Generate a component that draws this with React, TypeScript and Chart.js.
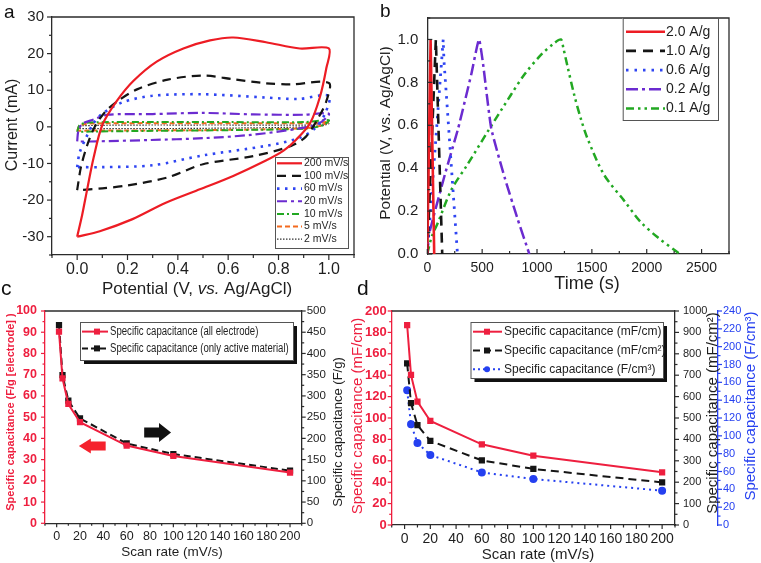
import React, { useEffect, useRef } from "react";
import { Chart, registerables } from "chart.js";

Chart.register(...registerables);

const FONT = "'Liberation Sans', Arial, Helvetica, sans-serif";
const AXIS = "#2b2b2b";
const TXT = "#1e1e1e";
const RED = "#ed1c24";
const BLACK = "#151515";
const BLUE = "#2f45f2";
const PURPLE = "#6b2bd0";
const GREEN = "#22a822";
const ORANGE = "#f46a1e";
const CRED = "#ee1f3f";
const DBLUE = "#2540f0";

type Pt = [number, number];

// ---------------- Panel a : cyclic voltammetry (potential V, current mA) ----------------
const cvNames = ["200 mV/s", "100 mV/s", "60 mV/s", "20 mV/s", "10 mV/s", "5 mV/s", "2 mV/s"];
const cv200: Pt[] = [[0, -30], [0.02, -24], [0.04, -17], [0.065, -8.5], [0.1, 0.5], [0.157, 7], [0.223, 12.5], [0.316, 17.8], [0.422, 21.4], [0.528, 23.6], [0.62, 24.4], [0.75, 23.1], [0.885, 21.4], [1.0, 21.4], [0.99, 16], [0.964, 8], [0.925, 0.9], [0.87, -3.5], [0.82, -6.5], [0.75, -9.2], [0.62, -13.4], [0.49, -17], [0.35, -20.8], [0.22, -25.2], [0.09, -28.5], [0, -30]];
const cv100: Pt[] = [[0, -17.3], [0.015, -11], [0.04, -5], [0.07, 0], [0.11, 4], [0.16, 7], [0.24, 10.3], [0.36, 12.9], [0.5, 14], [0.62, 13], [0.75, 11.9], [0.85, 11.6], [1.0, 12], [0.99, 7], [0.96, 2.7], [0.91, -2.6], [0.85, -5.2], [0.7, -8], [0.5, -10.2], [0.36, -13.8], [0.2, -16], [0.1, -16.8], [0, -17.3]];
const cv60: Pt[] = [[0, -11], [0.01, -7], [0.035, -3], [0.065, 1], [0.1, 3.6], [0.18, 6.7], [0.3, 8.5], [0.5, 8.9], [0.75, 8], [0.88, 7.6], [1.0, 8.5], [0.985, 3.6], [0.945, -0.4], [0.885, -3], [0.75, -5.2], [0.5, -7.8], [0.3, -10.5], [0.1, -11], [0, -11]];
const cv20: Pt[] = [[0, -4], [0.005, -1], [0.02, 0.8], [0.065, 2], [0.12, 3.3], [0.3, 3.5], [0.5, 3.8], [0.7, 3.4], [0.9, 3.3], [1.0, 3.6], [0.96, 0.9], [0.885, -0.4], [0.69, -2.2], [0.5, -3.1], [0.29, -3.6], [0.05, -4], [0, -4]];
const cv10: Pt[] = [[0, -1.4], [0.01, 0.5], [0.05, 1.2], [0.3, 1.3], [0.6, 1.3], [0.9, 1.3], [1.0, 1.8], [0.97, 0.3], [0.9, -0.5], [0.6, -0.9], [0.3, -1.1], [0.05, -1.3], [0, -1.4]];
const cv5: Pt[] = [[0, -1.1], [0.01, 0.3], [0.05, 0.9], [0.5, 1.0], [0.95, 1.0], [1.0, 1.4], [0.96, 0.2], [0.9, -0.4], [0.5, -0.9], [0.05, -1.0], [0, -1.1]];
const cv2: Pt[] = [[0, -0.5], [0.02, 0.3], [0.5, 0.5], [0.95, 0.5], [1.0, 0.9], [0.96, 0.1], [0.5, -0.4], [0.05, -0.5], [0, -0.5]];
const cvLoops = [cv200, cv100, cv60, cv20, cv10, cv5, cv2];
const cvXTicks = [0, 0.2, 0.4, 0.6, 0.8, 1.0];
const cvYTicks = [-30, -20, -10, 0, 10, 20, 30];

// ---------------- Panel b : galvanostatic charge/discharge (time s, potential V) ----------------
const gcdNames = ["2.0 A/g", "1.0 A/g", "0.6 A/g", "0.2 A/g", "0.1 A/g"];
const gcd20: Pt[] = [[0, 0], [30, 1.0], [63, 0]];
const gcd10: Pt[] = [[0, 0], [78, 1.0], [82, 0.93], [136, 0]];
const gcd06: Pt[] = [[0, 0], [145, 1.0], [152, 0.9], [275, 0]];
const gcd02: Pt[] = [[0, 0], [10, 0.08], [160, 0.37], [281, 0.585], [402, 0.84], [471, 1.0], [508, 0.887], [583, 0.585], [704, 0.358], [825, 0.16], [930, 0]];
const gcd01: Pt[] = [[0, 0], [40, 0.08], [100, 0.15], [220, 0.3], [370, 0.42], [550, 0.57], [760, 0.74], [890, 0.84], [1040, 0.93], [1150, 0.98], [1218, 1.0], [1240, 0.96], [1280, 0.87], [1340, 0.74], [1400, 0.63], [1459, 0.54], [1610, 0.37], [1792, 0.25], [1943, 0.15], [2094, 0.08], [2275, 0.01], [2300, 0]];
const gcdCurves = [gcd20, gcd10, gcd06, gcd02, gcd01];
const gcdXTicks = [0, 500, 1000, 1500, 2000, 2500];
const gcdYTicks = [0, 0.2, 0.4, 0.6, 0.8, 1.0];

// ---------------- Panel c : specific capacitance vs scan rate ----------------
const scanRates = [2, 5, 10, 20, 60, 100, 200];
const capAllElectrode = [90.3, 68.3, 56.2, 47.6, 36.6, 31.7, 23.9]; // F/g [electrode]
const capActiveOnly = [467, 349, 289, 247, 188, 163, 124]; // F/g
const cNames = ["Specific capacitance (all electrode)", "Specific capacitance (only active material)"];
const cXTicks = [0, 20, 40, 60, 80, 100, 120, 140, 160, 180, 200];
const cLeftTicks = [0, 10, 20, 30, 40, 50, 60, 70, 80, 90, 100];
const cRightTicks = [0, 50, 100, 150, 200, 250, 300, 350, 400, 450, 500];

// ---------------- Panel d : linear / areal / volumetric capacitance ----------------
const capLinear = [186.9, 140.2, 115.3, 97.2, 75.4, 64.8, 49.2]; // mF/cm
const capAreal = [755, 569, 467, 393, 302, 262, 199]; // mF/cm2
const capVolumetric = [151, 113, 92, 78.5, 59, 51.6, 38.5]; // F/cm3
const dNames = ["Specific capacitance (mF/cm)", "Specific capacitance (mF/cm\u00B2)", "Specific capacitance (F/cm\u00B3)"];
const dXTicks = [0, 20, 40, 60, 80, 100, 120, 140, 160, 180, 200];
const dLeftTicks = [0, 20, 40, 60, 80, 100, 120, 140, 160, 180, 200];
const dRightTicks = [0, 100, 200, 300, 400, 500, 600, 700, 800, 900, 1000];
const dBlueTicks = [0, 20, 40, 60, 80, 100, 120, 140, 160, 180, 200, 220, 240];

// ---------------- drawing helpers ----------------
type Seg = { t: string; i?: boolean };
type TextSpec = { segs: Seg[]; x: number; y: number; size: number; color: string; rot?: boolean; bold?: boolean; family?: string };
type TickSpec = { id: string; side: "left" | "right" | "bottom"; dir: 1 | -1; major: number; minor: number; color: string };
type LegItem = { label: string; color: string; dash: number[]; width: number; marker?: "rect" | "circle"; cap?: CanvasLineCap };
type LegendSpec = { x: number; y: number; w: number; h: number; shadow?: boolean; rowY: number; rowH: number; lx0: number; lx1: number; mx?: number; tx: number; size: number; family: string; sx?: number; items: LegItem[] };
type ArrowSpec = { x0: number; x1: number; yv: number; dir: 1 | -1; color: string; shaft: number; head: number; headLen: number };
type DecorSpec = { ox: number; oy: number; ticks: TickSpec[]; texts: TextSpec[]; frame?: boolean; topLine?: boolean; legend?: LegendSpec; arrows?: ArrowSpec[] };

function drawSegs(ctx: CanvasRenderingContext2D, spec: TextSpec, ox: number, oy: number) {
  ctx.save();
  const fam = spec.family ?? FONT;
  const fontOf = (s: Seg) => `${s.i ? "italic " : ""}${spec.bold ? "bold " : ""}${spec.size}px ${fam}`;
  let total = 0;
  const widths = spec.segs.map((s) => {
    ctx.font = fontOf(s);
    const w = ctx.measureText(s.t).width;
    total += w;
    return w;
  });
  ctx.translate(spec.x - ox, spec.y - oy);
  if (spec.rot) ctx.rotate(-Math.PI / 2);
  ctx.fillStyle = spec.color;
  ctx.textBaseline = "middle";
  ctx.textAlign = "left";
  let cx = -total / 2;
  spec.segs.forEach((s, k) => {
    ctx.font = fontOf(s);
    ctx.fillText(s.t, cx, 0);
    cx += widths[k];
  });
  ctx.restore();
}

function drawTicks(chart: any, t: TickSpec) {
  const s: any = chart.scales[t.id];
  if (!s) return;
  const ctx: CanvasRenderingContext2D = chart.ctx;
  const vals: number[] = s.ticks.map((k: any) => k.value);
  const step = vals.length > 1 ? vals[1] - vals[0] : 0;
  const minors: number[] = [];
  if (step) {
    for (let v = vals[0] - step / 2; v <= s.max + 1e-9; v += step) if (v >= s.min - 1e-9) minors.push(v);
  }
  ctx.save();
  ctx.strokeStyle = t.color;
  ctx.lineWidth = 1.2;
  const line = (v: number, len: number) => {
    const p = s.getPixelForValue(v);
    ctx.beginPath();
    if (t.side === "bottom") {
      const y0 = s.top;
      ctx.moveTo(p, y0);
      ctx.lineTo(p, y0 + t.dir * len);
    } else if (t.side === "left") {
      const x0 = s.right;
      ctx.moveTo(x0, p);
      ctx.lineTo(x0 - t.dir * len, p);
    } else {
      const x0 = s.left;
      ctx.moveTo(x0, p);
      ctx.lineTo(x0 + t.dir * len, p);
    }
    ctx.stroke();
  };
  vals.forEach((v) => line(v, t.major));
  minors.forEach((v) => line(v, t.minor));
  ctx.restore();
}

function drawLegend(ctx: CanvasRenderingContext2D, L: LegendSpec, ox: number, oy: number) {
  ctx.save();
  const x = L.x - ox;
  const y = L.y - oy;
  if (L.shadow) {
    ctx.fillStyle = "#111";
    ctx.fillRect(x + 4, y + 4, L.w, L.h);
  }
  ctx.fillStyle = "#fff";
  ctx.fillRect(x, y, L.w, L.h);
  ctx.strokeStyle = "#555";
  ctx.lineWidth = 1;
  ctx.strokeRect(x + 0.5, y + 0.5, L.w, L.h);
  L.items.forEach((it, k) => {
    const ry = L.rowY - oy + k * L.rowH;
    ctx.beginPath();
    ctx.setLineDash(it.dash);
    ctx.strokeStyle = it.color;
    ctx.lineWidth = it.width;
    ctx.lineCap = it.cap ?? "butt";
    ctx.moveTo(L.lx0 - ox, ry);
    ctx.lineTo(L.lx1 - ox, ry);
    ctx.stroke();
    ctx.setLineDash([]);
    if (it.marker && L.mx !== undefined) {
      ctx.fillStyle = it.color;
      const mx = L.mx - ox;
      if (it.marker === "rect") ctx.fillRect(mx - 3, ry - 3, 6, 6);
      else {
        ctx.beginPath();
        ctx.arc(mx, ry, 3, 0, Math.PI * 2);
        ctx.fill();
      }
    }
    ctx.save();
    ctx.fillStyle = TXT;
    ctx.font = `${L.size}px ${L.family}`;
    ctx.textBaseline = "middle";
    ctx.textAlign = "left";
    ctx.translate(L.tx - ox, ry);
    ctx.scale(L.sx ?? 1, 1);
    ctx.fillText(it.label, 0, 0);
    ctx.restore();
  });
  ctx.restore();
}

function drawArrow(chart: any, a: ArrowSpec) {
  const ctx: CanvasRenderingContext2D = chart.ctx;
  const xs = chart.scales.x;
  const ys = chart.scales.y;
  const X0 = xs.getPixelForValue(a.x0);
  const X1 = xs.getPixelForValue(a.x1);
  const Y = ys.getPixelForValue(a.yv);
  const tip = a.dir === 1 ? X1 : X0;
  const tail = a.dir === 1 ? X0 : X1;
  const hb = tip - a.dir * a.headLen;
  ctx.save();
  ctx.fillStyle = a.color;
  ctx.beginPath();
  ctx.moveTo(tail, Y - a.shaft / 2);
  ctx.lineTo(hb, Y - a.shaft / 2);
  ctx.lineTo(hb, Y - a.head / 2);
  ctx.lineTo(tip, Y);
  ctx.lineTo(hb, Y + a.head / 2);
  ctx.lineTo(hb, Y + a.shaft / 2);
  ctx.lineTo(tail, Y + a.shaft / 2);
  ctx.closePath();
  ctx.fill();
  ctx.restore();
}

function decor(spec: DecorSpec) {
  return {
    id: "decor",
    afterDatasetsDraw(chart: any) {
      const ctx: CanvasRenderingContext2D = chart.ctx;
      const ca = chart.chartArea;
      (spec.arrows ?? []).forEach((a) => drawArrow(chart, a));
      if (spec.frame || spec.topLine) {
        ctx.save();
        ctx.strokeStyle = AXIS;
        ctx.lineWidth = 1.3;
        ctx.beginPath();
        ctx.moveTo(ca.left, ca.top);
        ctx.lineTo(ca.right, ca.top);
        if (spec.frame) ctx.lineTo(ca.right, ca.bottom);
        ctx.stroke();
        ctx.restore();
      }
      spec.ticks.forEach((t) => drawTicks(chart, t));
      if (spec.legend) drawLegend(ctx, spec.legend, spec.ox, spec.oy);
      spec.texts.forEach((t) => drawSegs(ctx, t, spec.ox, spec.oy));
    },
  };
}

type ScaleOpt = { min: number; max: number; ticks: number[]; pos: "left" | "right" | "bottom"; size: number; font: number; color: string; pad: number; fmt?: (v: number) => string; border?: string; weight?: number; bold?: boolean };
function linScale(o: ScaleOpt) {
  return {
    type: "linear",
    position: o.pos,
    min: o.min,
    max: o.max,
    weight: o.weight ?? 0,
    afterBuildTicks: (s: any) => {
      s.ticks = o.ticks.map((v) => ({ value: v }));
    },
    afterFit: (s: any) => {
      if (o.pos === "bottom") s.height = o.size;
      else s.width = o.size;
    },
    grid: { display: false, drawTicks: false },
    border: { display: true, color: o.border ?? AXIS, width: 1.3 },
    ticks: {
      autoSkip: false,
      maxRotation: 0,
      minRotation: 0,
      padding: o.pad,
      color: o.color,
      font: { family: FONT, size: o.font, weight: o.bold ? "bold" : "normal" },
      callback: (v: any) => (o.fmt ? o.fmt(Number(v)) : String(v)),
    },
  };
}

const baseOpts = (padding: any) => ({
  responsive: false,
  animation: false,
  devicePixelRatio: 1,
  layout: { padding },
  plugins: { legend: { display: false }, tooltip: { enabled: false } },
  elements: { point: { radius: 0 } },
});

const toXY = (pts: Pt[]) => pts.map(([x, y]) => ({ x, y }));

// ---------------- chart configs ----------------
function cfgA(): any {
  const styles = [
    { c: RED, w: 2.2, d: [] as number[] },
    { c: BLACK, w: 2.2, d: [9, 6] },
    { c: BLUE, w: 2.6, d: [2.5, 5.5] },
    { c: PURPLE, w: 2.2, d: [10, 4, 3, 4] },
    { c: GREEN, w: 2, d: [7, 3, 2, 3] },
    { c: ORANGE, w: 2, d: [5, 3] },
    { c: "#333", w: 1.2, d: [1.5, 1.5] },
  ];
  return {
    type: "scatter",
    data: {
      datasets: cvLoops.map((pts, i) => ({
        label: cvNames[i],
        data: toXY(pts),
        showLine: true,
        borderColor: styles[i].c,
        borderWidth: styles[i].w,
        borderDash: styles[i].d,
        pointRadius: 0,
        tension: 0.3,
        fill: false,
      })),
    },
    options: {
      ...baseOpts({ left: 0, top: 11, right: 26, bottom: 0 }),
      scales: {
        x: linScale({ min: -0.1, max: 1.1, ticks: cvXTicks, pos: "bottom", size: 45, font: 16, color: TXT, pad: 5, fmt: (v) => v.toFixed(1) }),
        y: linScale({ min: -35, max: 30, ticks: cvYTicks, pos: "left", size: 52, font: 15, color: TXT, pad: 8 }),
      },
    },
    plugins: [
      decor({
        ox: 0,
        oy: 0,
        frame: true,
        ticks: [
          { id: "x", side: "bottom", dir: 1, major: 5, minor: 3, color: AXIS },
          { id: "y", side: "left", dir: 1, major: 5, minor: 3, color: AXIS },
        ],
        texts: [
          { segs: [{ t: "Current (mA)" }], x: 13, y: 125, size: 16, color: TXT, rot: true },
          { segs: [{ t: "Potential (V, " }, { t: "vs.", i: true }, { t: " Ag/AgCl)" }], x: 197, y: 289, size: 17, color: TXT },
        ],
        legend: {
          x: 275, y: 157, w: 73, h: 91, rowY: 163.3, rowH: 12.65, lx0: 277, lx1: 302, tx: 304, size: 10.5, family: FONT,
          items: cvNames.map((n, i) => ({ label: n, color: styles[i].c, dash: styles[i].d, width: styles[i].w })),
        },
      }),
    ],
  };
}

function cfgB(): any {
  const styles = [
    { c: RED, w: 2.6, d: [] as number[], t: 0 },
    { c: BLACK, w: 2.6, d: [10, 7], t: 0 },
    { c: BLUE, w: 2.8, d: [2.5, 6], t: 0 },
    { c: PURPLE, w: 2.5, d: [12, 4, 3, 4], t: 0.15 },
    { c: GREEN, w: 2.5, d: [8, 4, 2.5, 4, 2.5, 4], t: 0.3 },
  ];
  return {
    type: "scatter",
    data: {
      datasets: gcdCurves.map((pts, i) => ({
        label: gcdNames[i],
        data: toXY(pts),
        showLine: true,
        borderColor: styles[i].c,
        borderWidth: styles[i].w,
        borderDash: styles[i].d,
        pointRadius: 0,
        tension: styles[i].t,
        fill: false,
      })),
    },
    options: {
      ...baseOpts({ left: 0, top: 11, right: 32, bottom: 0 }),
      scales: {
        x: linScale({ min: 0, max: 2750, ticks: gcdXTicks, pos: "bottom", size: 46, font: 14, color: TXT, pad: 6 }),
        y: linScale({ min: 0, max: 1.1, ticks: gcdYTicks, pos: "left", size: 47.3, font: 15, color: TXT, pad: 9, fmt: (v) => v.toFixed(1) }),
      },
    },
    plugins: [
      decor({
        ox: 380,
        oy: 0,
        frame: true,
        ticks: [
          { id: "x", side: "bottom", dir: -1, major: 5, minor: 3, color: AXIS },
          { id: "y", side: "left", dir: -1, major: 5, minor: 3, color: AXIS },
        ],
        texts: [
          { segs: [{ t: "Potential (V, vs. Ag/AgCl)" }], x: 386, y: 133, size: 15.5, color: TXT, rot: true },
          { segs: [{ t: "Time (s)" }], x: 587, y: 284, size: 18, color: TXT },
        ],
        legend: {
          x: 622.7, y: 18, w: 95.3, h: 102, rowY: 31.7, rowH: 19.2, lx0: 626, lx1: 665, tx: 666, size: 14, family: FONT,
          items: gcdNames.map((n, i) => ({ label: n, color: styles[i].c, dash: styles[i].d, width: styles[i].w })),
        },
      }),
    ],
  };
}

function cfgC(): any {
  return {
    type: "scatter",
    data: {
      datasets: [
        {
          label: cNames[0],
          data: scanRates.map((x, i) => ({ x, y: capAllElectrode[i] })),
          yAxisID: "y",
          showLine: true,
          borderColor: CRED,
          backgroundColor: CRED,
          borderWidth: 2,
          pointStyle: "rect",
          pointRadius: 3,
          tension: 0,
        },
        {
          label: cNames[1],
          data: scanRates.map((x, i) => ({ x, y: capActiveOnly[i] })),
          yAxisID: "y2",
          showLine: true,
          borderColor: BLACK,
          backgroundColor: BLACK,
          borderWidth: 2,
          borderDash: [7, 4],
          pointStyle: "rect",
          pointRadius: 3,
          tension: 0,
        },
      ],
    },
    options: {
      ...baseOpts({ left: 0, top: 21, right: 0, bottom: 0 }),
      scales: {
        x: linScale({ min: -10, max: 210, ticks: cXTicks, pos: "bottom", size: 39.7, font: 12.5, color: TXT, pad: 6 }),
        y: linScale({ min: 0, max: 100, ticks: cLeftTicks, pos: "left", size: 45, font: 12.5, color: CRED, pad: 8, border: CRED, bold: true }),
        y2: linScale({ min: 0, max: 500, ticks: cRightTicks, pos: "right", size: 48.3, font: 11.5, color: TXT, pad: 5 }),
      },
    },
    plugins: [
      decor({
        ox: 0,
        oy: 290,
        topLine: true,
        ticks: [
          { id: "x", side: "bottom", dir: 1, major: 4, minor: 2.5, color: AXIS },
          { id: "y", side: "left", dir: 1, major: 4, minor: 2.5, color: CRED },
          { id: "y2", side: "right", dir: 1, major: 4, minor: 2.5, color: AXIS },
        ],
        arrows: [
          { x0: 75, x1: 98, yv: 42.8, dir: 1, color: "#111", shaft: 10, head: 19, headLen: 12 },
          { x0: 19, x1: 42, yv: 36.4, dir: -1, color: "#f5222d", shaft: 9, head: 15, headLen: 12 },
        ],
        texts: [
          { segs: [{ t: "Specific capacitance (F/g [electrode] )" }], x: 11, y: 412, size: 11, bold: true, color: CRED, rot: true },
          { segs: [{ t: "Specific capacitance (F/g)" }], x: 338, y: 432, size: 13, color: TXT, rot: true },
          { segs: [{ t: "Scan rate (mV/s)" }], x: 172, y: 552, size: 13.5, color: TXT },
        ],
        legend: {
          x: 80, y: 322, w: 213, h: 38, shadow: true, rowY: 331.6, rowH: 16.8, lx0: 82, lx1: 108, mx: 97, tx: 110, size: 12, sx: 0.8, family: FONT,
          items: [
            { label: cNames[0], color: CRED, dash: [], width: 2, marker: "rect" },
            { label: cNames[1], color: BLACK, dash: [6, 3], width: 2, marker: "rect" },
          ],
        },
      }),
    ],
  };
}

function cfgD(): any {
  return {
    type: "scatter",
    data: {
      datasets: [
        {
          label: dNames[0],
          data: scanRates.map((x, i) => ({ x, y: capLinear[i] })),
          yAxisID: "y",
          showLine: true,
          borderColor: CRED,
          backgroundColor: CRED,
          borderWidth: 2,
          pointStyle: "rect",
          pointRadius: 3,
          tension: 0,
        },
        {
          label: dNames[1],
          data: scanRates.map((x, i) => ({ x, y: capAreal[i] })),
          yAxisID: "y2",
          showLine: true,
          borderColor: BLACK,
          backgroundColor: BLACK,
          borderWidth: 2,
          borderDash: [8, 5],
          pointStyle: "rect",
          pointRadius: 3,
          tension: 0,
        },
        {
          label: dNames[2],
          data: scanRates.map((x, i) => ({ x, y: capVolumetric[i] })),
          yAxisID: "y3",
          showLine: true,
          borderColor: DBLUE,
          backgroundColor: DBLUE,
          borderWidth: 2,
          borderDash: [2, 4],
          pointStyle: "circle",
          pointRadius: 3,
          tension: 0,
        },
      ],
    },
    options: {
      ...baseOpts({ left: 0, top: 21, right: 0, bottom: 0 }),
      scales: {
        x: linScale({ min: -10, max: 210, ticks: dXTicks, pos: "bottom", size: 38, font: 14, color: TXT, pad: 6 }),
        y: linScale({ min: 0, max: 200, ticks: dLeftTicks, pos: "left", size: 51.7, font: 13, color: CRED, pad: 5, border: CRED, bold: true }),
        y2: linScale({ min: 0, max: 1000, ticks: dRightTicks, pos: "right", size: 43, font: 11, color: TXT, pad: 8, weight: 0 }),
        y3: linScale({ min: 0, max: 240, ticks: dBlueTicks, pos: "right", size: 43, font: 11, color: DBLUE, pad: 5, border: DBLUE, weight: 1 }),
      },
    },
    plugins: [
      decor({
        ox: 340,
        oy: 290,
        topLine: true,
        ticks: [
          { id: "x", side: "bottom", dir: 1, major: 4, minor: 2.5, color: AXIS },
          { id: "y", side: "left", dir: 1, major: 4, minor: 2.5, color: CRED },
          { id: "y2", side: "right", dir: 1, major: 4, minor: 2.5, color: AXIS },
          { id: "y3", side: "right", dir: 1, major: 4, minor: 2.5, color: DBLUE },
        ],
        texts: [
          { segs: [{ t: "Specific capacitance (mF/cm)" }], x: 357.5, y: 416, size: 15, color: CRED, rot: true },
          { segs: [{ t: "Specific capacitance (mF/cm\u00B2)" }], x: 712.5, y: 413, size: 15, color: TXT, rot: true },
          { segs: [{ t: "Specific capacitance (F/cm\u00B3)" }], x: 751, y: 406, size: 15, color: DBLUE, rot: true },
          { segs: [{ t: "Scan rate (mV/s)" }], x: 538, y: 555, size: 15, color: TXT },
        ],
        legend: {
          x: 470.5, y: 322, w: 192.5, h: 56, shadow: true, rowY: 331.7, rowH: 18.8, lx0: 473, lx1: 502, mx: 487, tx: 504, size: 12, family: FONT,
          items: [
            { label: dNames[0], color: CRED, dash: [], width: 2, marker: "rect" },
            { label: dNames[1], color: BLACK, dash: [7, 4], width: 2, marker: "rect" },
            { label: dNames[2], color: DBLUE, dash: [2, 3], width: 2, marker: "circle" },
          ],
        },
      }),
    ],
  };
}

const letter = (t: string, left: number, top: number, size: number) => (
  <div style={{ position: "absolute", left, top, fontSize: size, lineHeight: 1, fontFamily: FONT, color: "#111" }}>{t}</div>
);

export default function App() {
  const ra = useRef<HTMLCanvasElement>(null);
  const rb = useRef<HTMLCanvasElement>(null);
  const rc = useRef<HTMLCanvasElement>(null);
  const rd = useRef<HTMLCanvasElement>(null);
  useEffect(() => {
    const charts = [
      new Chart(ra.current as HTMLCanvasElement, cfgA()),
      new Chart(rb.current as HTMLCanvasElement, cfgB()),
      new Chart(rc.current as HTMLCanvasElement, cfgC()),
      new Chart(rd.current as HTMLCanvasElement, cfgD()),
    ];
    return () => charts.forEach((c) => c.destroy());
  }, []);
  return (
    <div style={{ position: "absolute", left: 0, top: 0, width: 761, height: 563, background: "#fff", overflow: "hidden" }}>
      <canvas ref={ra} width={380} height={300} style={{ position: "absolute", left: 0, top: 0 }} />
      <canvas ref={rb} width={381} height={300} style={{ position: "absolute", left: 380, top: 0 }} />
      <canvas ref={rc} width={350} height={273} style={{ position: "absolute", left: 0, top: 290 }} />
      <canvas ref={rd} width={421} height={273} style={{ position: "absolute", left: 340, top: 290 }} />
      {letter("a", 4, 2, 19)}
      {letter("b", 380, 1, 19)}
      {letter("c", 1, 277, 21)}
      {letter("d", 357, 277, 21)}
    </div>
  );
}
